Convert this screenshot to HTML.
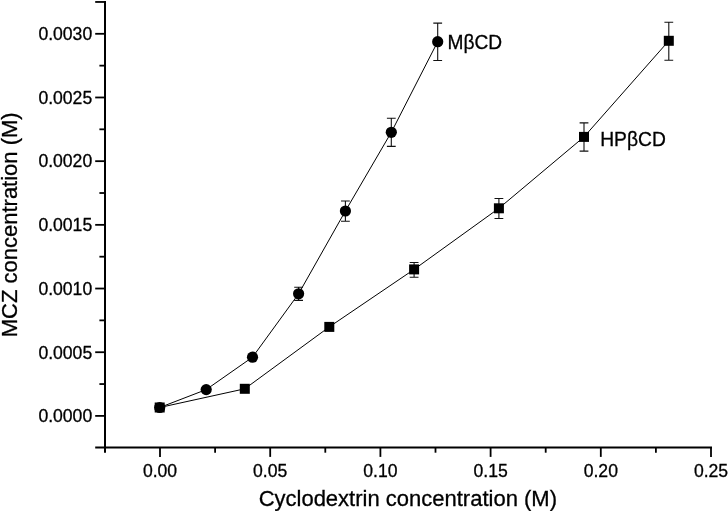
<!DOCTYPE html>
<html><head><meta charset="utf-8"><style>
html,body{margin:0;padding:0;background:#fff;}
svg{display:block;will-change:transform;}
text{font-family:"Liberation Sans",sans-serif;fill:#000;stroke:#000;stroke-width:0.3px;}
.t{font-size:17.6px;}
.ti{font-size:22px;}
.lb{font-size:19.6px;}
</style></head><body>
<svg width="728" height="511" viewBox="0 0 728 511">
<rect width="728" height="511" fill="#fff"/>
<line x1="105.0" y1="1" x2="105.0" y2="452.8" stroke="#000" stroke-width="2.0"/>
<line x1="95.2" y1="447.5" x2="712" y2="447.5" stroke="#000" stroke-width="2.0"/>
<line x1="95.2" y1="415.90" x2="105.0" y2="415.90" stroke="#000" stroke-width="1.8"/>
<line x1="99.4" y1="384.06" x2="105.0" y2="384.06" stroke="#000" stroke-width="1.8"/>
<line x1="95.2" y1="352.22" x2="105.0" y2="352.22" stroke="#000" stroke-width="1.8"/>
<line x1="99.4" y1="320.37" x2="105.0" y2="320.37" stroke="#000" stroke-width="1.8"/>
<line x1="95.2" y1="288.53" x2="105.0" y2="288.53" stroke="#000" stroke-width="1.8"/>
<line x1="99.4" y1="256.69" x2="105.0" y2="256.69" stroke="#000" stroke-width="1.8"/>
<line x1="95.2" y1="224.85" x2="105.0" y2="224.85" stroke="#000" stroke-width="1.8"/>
<line x1="99.4" y1="193.01" x2="105.0" y2="193.01" stroke="#000" stroke-width="1.8"/>
<line x1="95.2" y1="161.17" x2="105.0" y2="161.17" stroke="#000" stroke-width="1.8"/>
<line x1="99.4" y1="129.32" x2="105.0" y2="129.32" stroke="#000" stroke-width="1.8"/>
<line x1="95.2" y1="97.48" x2="105.0" y2="97.48" stroke="#000" stroke-width="1.8"/>
<line x1="99.4" y1="65.64" x2="105.0" y2="65.64" stroke="#000" stroke-width="1.8"/>
<line x1="95.2" y1="33.80" x2="105.0" y2="33.80" stroke="#000" stroke-width="1.8"/>
<line x1="95.2" y1="1.96" x2="105.0" y2="1.96" stroke="#000" stroke-width="1.8"/>
<line x1="160.00" y1="447.5" x2="160.00" y2="456.9" stroke="#000" stroke-width="1.8"/>
<line x1="215.10" y1="447.5" x2="215.10" y2="452.7" stroke="#000" stroke-width="1.8"/>
<line x1="270.20" y1="447.5" x2="270.20" y2="456.9" stroke="#000" stroke-width="1.8"/>
<line x1="325.30" y1="447.5" x2="325.30" y2="452.7" stroke="#000" stroke-width="1.8"/>
<line x1="380.40" y1="447.5" x2="380.40" y2="456.9" stroke="#000" stroke-width="1.8"/>
<line x1="435.50" y1="447.5" x2="435.50" y2="452.7" stroke="#000" stroke-width="1.8"/>
<line x1="490.60" y1="447.5" x2="490.60" y2="456.9" stroke="#000" stroke-width="1.8"/>
<line x1="545.70" y1="447.5" x2="545.70" y2="452.7" stroke="#000" stroke-width="1.8"/>
<line x1="600.80" y1="447.5" x2="600.80" y2="456.9" stroke="#000" stroke-width="1.8"/>
<line x1="655.90" y1="447.5" x2="655.90" y2="452.7" stroke="#000" stroke-width="1.8"/>
<line x1="711.00" y1="447.5" x2="711.00" y2="456.9" stroke="#000" stroke-width="1.8"/>
<text x="92.2" y="422.20" text-anchor="end" class="t">0.0000</text>
<text x="92.2" y="358.52" text-anchor="end" class="t">0.0005</text>
<text x="92.2" y="294.83" text-anchor="end" class="t">0.0010</text>
<text x="92.2" y="231.15" text-anchor="end" class="t">0.0015</text>
<text x="92.2" y="167.47" text-anchor="end" class="t">0.0020</text>
<text x="92.2" y="103.78" text-anchor="end" class="t">0.0025</text>
<text x="92.2" y="40.10" text-anchor="end" class="t">0.0030</text>
<text x="160.00" y="477.0" text-anchor="middle" class="t">0.00</text>
<text x="270.20" y="477.0" text-anchor="middle" class="t">0.05</text>
<text x="380.40" y="477.0" text-anchor="middle" class="t">0.10</text>
<text x="490.60" y="477.0" text-anchor="middle" class="t">0.15</text>
<text x="600.80" y="477.0" text-anchor="middle" class="t">0.20</text>
<text x="711.00" y="477.0" text-anchor="middle" class="t">0.25</text>
<text x="407.8" y="505.6" text-anchor="middle" class="ti">Cyclodextrin concentration (M)</text>
<text transform="translate(17.2,224.8) rotate(-90)" text-anchor="middle" class="ti">MCZ concentration (M)</text>
<polyline fill="none" stroke="#000" stroke-width="1" points="159.7,407.5 206.2,389.6 252.5,357.2 298.6,293.8 345.4,211.0 391.3,132.3 437.7,41.7"/>
<polyline fill="none" stroke="#000" stroke-width="1" points="159.7,407.5 244.8,388.8 329.3,326.9 414.1,269.4 498.9,208.3 584.0,136.9 668.8,40.8"/>
<path d="M298.6,287.3 V300.4 M294.20000000000005,287.3 H303.0 M294.20000000000005,300.4 H303.0" stroke="#111" stroke-width="1.1" fill="none"/>
<path d="M345.4,201.0 V221.3 M341.0,201.0 H349.79999999999995 M341.0,221.3 H349.79999999999995" stroke="#111" stroke-width="1.1" fill="none"/>
<path d="M391.3,118.2 V146.4 M386.90000000000003,118.2 H395.7 M386.90000000000003,146.4 H395.7" stroke="#111" stroke-width="1.1" fill="none"/>
<path d="M437.7,23.1 V60.5 M433.3,23.1 H442.09999999999997 M433.3,60.5 H442.09999999999997" stroke="#111" stroke-width="1.1" fill="none"/>
<path d="M414.1,262.5 V277.2 M409.70000000000005,262.5 H418.5 M409.70000000000005,277.2 H418.5" stroke="#111" stroke-width="1.1" fill="none"/>
<path d="M498.9,198.5 V218.5 M494.5,198.5 H503.29999999999995 M494.5,218.5 H503.29999999999995" stroke="#111" stroke-width="1.1" fill="none"/>
<path d="M584.0,122.9 V151.1 M579.6,122.9 H588.4 M579.6,151.1 H588.4" stroke="#111" stroke-width="1.1" fill="none"/>
<path d="M668.8,22.3 V60.2 M664.4,22.3 H673.1999999999999 M664.4,60.2 H673.1999999999999" stroke="#111" stroke-width="1.1" fill="none"/>
<rect x="154.7" y="402.5" width="10" height="10" fill="#000"/>
<rect x="239.8" y="383.8" width="10" height="10" fill="#000"/>
<rect x="324.3" y="321.9" width="10" height="10" fill="#000"/>
<rect x="409.1" y="264.4" width="10" height="10" fill="#000"/>
<rect x="493.9" y="203.3" width="10" height="10" fill="#000"/>
<rect x="579.0" y="131.9" width="10" height="10" fill="#000"/>
<rect x="663.8" y="35.8" width="10" height="10" fill="#000"/>
<circle cx="159.7" cy="407.5" r="5.6" fill="#000"/>
<circle cx="206.2" cy="389.6" r="5.6" fill="#000"/>
<circle cx="252.5" cy="357.2" r="5.6" fill="#000"/>
<circle cx="298.6" cy="293.8" r="5.6" fill="#000"/>
<circle cx="345.4" cy="211.0" r="5.6" fill="#000"/>
<circle cx="391.3" cy="132.3" r="5.6" fill="#000"/>
<circle cx="437.7" cy="41.7" r="5.6" fill="#000"/>
<text x="447.5" y="48.6" class="lb" textLength="54.6" lengthAdjust="spacingAndGlyphs">MβCD</text>
<text x="600.2" y="145.5" class="lb" textLength="65.6" lengthAdjust="spacingAndGlyphs">HPβCD</text>
</svg>
</body></html>
